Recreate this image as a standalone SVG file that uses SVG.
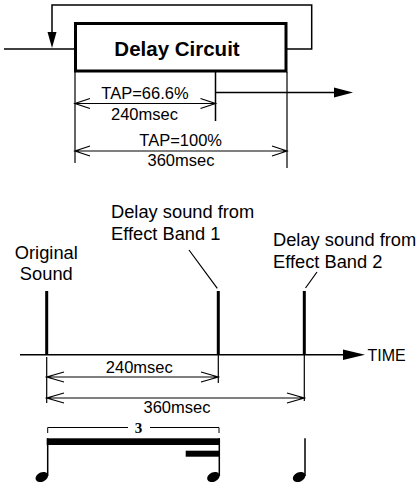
<svg xmlns="http://www.w3.org/2000/svg" width="419" height="486" viewBox="0 0 419 486">
<style>
.ln{fill:none;stroke:#000;stroke-width:1.2}
.th{fill:none;stroke:#000;stroke-width:1.5}
.sp{fill:none;stroke:#000;stroke-width:3}
.fa{fill:#000;stroke:none}
.t{font-family:"Liberation Sans",Arial,sans-serif;fill:#000}
.s16{font-size:16.5px}
.s18{font-size:18.3px}
</style>
<rect width="419" height="486" fill="#fff"/>
<g id="delay-circuit">
<rect x="75.5" y="23.5" width="210.5" height="47.5" fill="#fff" stroke="#000" stroke-width="3"/>
<text class="t" x="177" y="55.5" font-size="20.5" font-weight="bold" text-anchor="middle">Delay Circuit</text>
</g>
<g id="connectors">
<path class="th" d="M4,49 H74"/>
<path class="th" d="M287,49 H311.7 V5 H52 V33"/>
<path class="fa" d="M47.5,32 L56.5,32 L52,48 Z"/>
<path class="th" d="M215.5,72 V121 M215.5,92.5 H335"/>
<path class="fa" d="M334,87.5 L353,92.5 L334,97.5 Z"/>
</g>
<g id="top-dimensions">
<path class="ln" d="M75,72 V163 M287,72 V168"/>
<path class="ln" d="M75,103.5 H215.5 M90,98.5 L75,103.5 L90,108.5 M200.5,98.5 L215.5,103.5 L200.5,108.5"/>
<path class="ln" d="M75,151 H287 M90,146 L75,151 L90,156 M272,146 L287,151 L272,156"/>
<text class="t s16" x="145" y="98.5" text-anchor="middle">TAP=66.6%</text>
<text class="t s16" x="144.5" y="119.5" text-anchor="middle">240msec</text>
<text class="t s16" x="180.7" y="146" text-anchor="middle">TAP=100%</text>
<text class="t s16" x="181" y="166" text-anchor="middle">360msec</text>
</g>
<g id="labels">
<text class="t s18" x="46.3" y="258.5" text-anchor="middle">Original</text>
<text class="t s18" x="46.3" y="280" text-anchor="middle">Sound</text>
<text class="t s18" x="111" y="218.3">Delay sound from</text>
<text class="t s18" x="111" y="240">Effect Band 1</text>
<text class="t s18" x="273" y="246">Delay sound from</text>
<text class="t s18" x="273" y="268">Effect Band 2</text>
<path class="ln" d="M189,250 L217.3,288.3 M317,272 L305.5,288"/>
</g>
<g id="timeline">
<path class="th" d="M20,354.7 H344"/>
<path class="fa" d="M343,349.5 L365,354.7 L343,360 Z"/>
<text class="t" x="367.5" y="361" font-size="16px">TIME</text>
<path class="sp" d="M46.7,291 V354.7 M218.3,291 V354.7 M304.3,291 V354.7"/>
</g>
<g id="bottom-dimensions">
<path class="ln" d="M46.7,357 V403 M218.3,355 V383 M304.3,355 V401"/>
<path class="ln" d="M46.7,377 H218.3 M64,372 L46.7,377 L64,382 M201,372 L218.3,377 L201,382"/>
<path class="ln" d="M46.7,398 H304.3 M64,393 L46.7,398 L64,403 M287,393 L304.3,398 L287,403"/>
<text class="t s16" x="139.3" y="372.7" text-anchor="middle">240msec</text>
<text class="t s16" x="177" y="413.3" text-anchor="middle">360msec</text>
</g>
<g id="notation">
<path fill="none" stroke="#000" stroke-width="1" d="M47.7,433 V427.5 H128 M150,427.5 H219 V433"/>
<text x="138.5" y="432.5" font-family="'Liberation Serif',serif" font-weight="bold" font-size="15px" text-anchor="middle">3</text>
<rect x="46.7" y="438.3" width="173.3" height="6.7" fill="#000"/>
<rect x="185.7" y="450.7" width="34.3" height="6" fill="#000"/>
<path fill="none" stroke="#000" stroke-width="1.5" d="M47.7,438.3 V476 M219.3,438.3 V476 M305,438.3 V476"/>
<ellipse cx="41.8" cy="477" rx="6.6" ry="4.6" transform="rotate(-25 41.8 477)" fill="#000"/>
<ellipse cx="213.4" cy="477" rx="6.6" ry="4.6" transform="rotate(-25 213.4 477)" fill="#000"/>
<ellipse cx="299.1" cy="477" rx="6.6" ry="4.6" transform="rotate(-25 299.1 477)" fill="#000"/>
</g>
</svg>
